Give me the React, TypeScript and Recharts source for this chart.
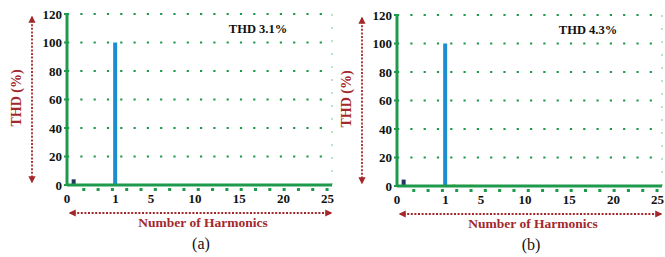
import React from 'react';
import { BarChart, Bar, XAxis, YAxis, CartesianGrid, Cell, ReferenceLine } from 'recharts';

// harmonic orders shown on the spectrum (0 = DC, 1 = fundamental)
const harmonicOrders = [0, 1, 2, 3, 4, 5, 6, 7, 8, 9, 10, 11, 12, 13, 14, 15, 16, 17, 18, 19, 20, 21, 22, 23, 24, 25];
// magnitude in % of fundamental
const spectrumA = [4, 100, 0.4, 0.6, 0.5, 0.4, 0.3, 0.3, 0.2, 0.3, 0.2, 0.2, 0.2, 0.1, 0.1, 0.1, 0.1, 0.1, 0.1, 0.1, 0.1, 0.1, 0.1, 0.1, 0.1, 0.1];
const spectrumB = [4.5, 100, 1.2, 0.9, 1.0, 0.5, 0.3, 0.3, 0.2, 0.2, 0.2, 0.2, 0.2, 0.1, 0.1, 0.1, 0.1, 0.1, 0.1, 0.1, 0.1, 0.1, 0.1, 0.1, 0.1, 0.1];
const xTickLabels = [0, 1, 5, 10, 15, 20, 25];
const yTicks = [0, 20, 40, 60, 80, 100, 120];

const GREEN = '#1f9a4c';
const RED = '#a3282b';
const FONT = '"Liberation Serif", "Times New Roman", serif';

// the x axis in the figure is not linear: DC gets a wide slot before the fundamental
const toAxis = (h: number) => (h === 0 ? 0.8 : h + 4.5);
const tickPos = (h: number) => (h === 0 ? 0 : h + 4.5);

const minorTicks: number[] = [];
for (let p = 1.9; p < 30; p += 1.62) minorTicks.push(+p.toFixed(2));
const labelTicks = xTickLabels.map(tickPos);
const allTicks = [...labelTicks, ...minorTicks].sort((a, b) => a - b);

const XTick = (props: any) => {
  const { x, y, payload } = props;
  const idx = labelTicks.indexOf(payload.value);
  if (idx < 0) {
    return <rect x={x - 1.5} y={y - 5} width={3} height={3} fill={GREEN} />;
  }
  return (
    <text x={x} y={y + 10} textAnchor="middle" fontFamily={FONT} fontWeight="bold" fontSize={13} fill="#111">
      {xTickLabels[idx]}
    </text>
  );
};

interface PanelProps {
  id: string;
  left: number;
  top: number;
  values: number[];
  thd: string;
  caption: string;
}

const Panel: React.FC<PanelProps> = ({ id, left, top, values, thd, caption }) => {
  const data = harmonicOrders.map((h, i) => ({ h, pos: toAxis(h), value: values[i] }));
  const colorOf = (h: number) => (h === 0 ? '#22375e' : h === 1 ? '#1c8dd0' : '#e6df4a');
  const arrow = `url(#arrow-${id})`;
  return (
    <div style={{ position: 'absolute', left, top, width: 340, height: 257 }}>
      <BarChart width={340} height={257} data={data} margin={{ top: 14, right: 8, left: 37, bottom: 52 }}>
        <CartesianGrid
          vertical={false}
          stroke={GREEN}
          strokeWidth={2.2}
          strokeDasharray="2.2 11.1"
          horizontalValues={[20, 40, 60, 80, 100, 120]}
        />
        <ReferenceLine x={30} stroke="#a9d6b8" strokeWidth={1.5} strokeDasharray="2 11" ifOverflow="extendDomain" />
        <XAxis
          type="number"
          dataKey="pos"
          domain={[0, 30]}
          ticks={allTicks}
          interval={0}
          height={20}
          axisLine={{ stroke: GREEN, strokeWidth: 3 }}
          tickLine={false}
          tick={<XTick />}
        />
        <YAxis
          type="number"
          domain={[0, 120]}
          ticks={yTicks}
          width={30}
          interval={0}
          axisLine={{ stroke: GREEN, strokeWidth: 3 }}
          tickLine={{ stroke: GREEN, strokeWidth: 2 }}
          tickSize={3}
          tick={{ fontFamily: FONT, fontWeight: 'bold', fontSize: 13, fill: '#111' }}
        />
        <Bar dataKey="value" barSize={4} isAnimationActive={false}>
          {data.map((d) => (
            <Cell key={d.h} fill={colorOf(d.h)} />
          ))}
        </Bar>
      </BarChart>
      <svg width={340} height={257} style={{ position: 'absolute', left: 0, top: 0, pointerEvents: 'none' }}>
        <defs>
          <marker id={`arrow-${id}`} viewBox="0 0 10 10" refX="8" refY="5" markerWidth="4" markerHeight="4" orient="auto-start-reverse">
            <path d="M0,0 L10,5 L0,10 z" fill={RED} />
          </marker>
        </defs>
        <text x={258} y={33} textAnchor="middle" fontFamily={FONT} fontWeight="bold" fontSize={12.5} fill="#111">
          {thd}
        </text>
        <line x1={32} y1={17} x2={32} y2={182} stroke={RED} strokeWidth={1.8} strokeDasharray="2 1.6"
          markerStart={arrow} markerEnd={arrow} />
        <text x={21} y={98} transform="rotate(-90 21 98)" textAnchor="middle" fontFamily={FONT} fontWeight="bold" fontSize={14} fill={RED}>
          THD (%)
        </text>
        <line x1={70} y1={213} x2={331} y2={213} stroke={RED} strokeWidth={1.8} strokeDasharray="2 1.6"
          markerStart={arrow} markerEnd={arrow} />
        <text x={203} y={227} textAnchor="middle" fontFamily={FONT} fontWeight="bold" fontSize={13.5} fill={RED}>
          Number of Harmonics
        </text>
        <text x={201} y={249} textAnchor="middle" fontFamily={FONT} fontSize={16} fill="#111">
          {caption}
        </text>
      </svg>
    </div>
  );
};

export default function App() {
  return (
    <div style={{ position: 'absolute', left: 0, top: 0, width: 665, height: 257, overflow: 'hidden', background: '#fff' }}>
      <Panel id="a" left={0} top={0} values={spectrumA} thd="THD 3.1%" caption="(a)" />
      <Panel id="b" left={330} top={1} values={spectrumB} thd="THD 4.3%" caption="(b)" />
    </div>
  );
}
